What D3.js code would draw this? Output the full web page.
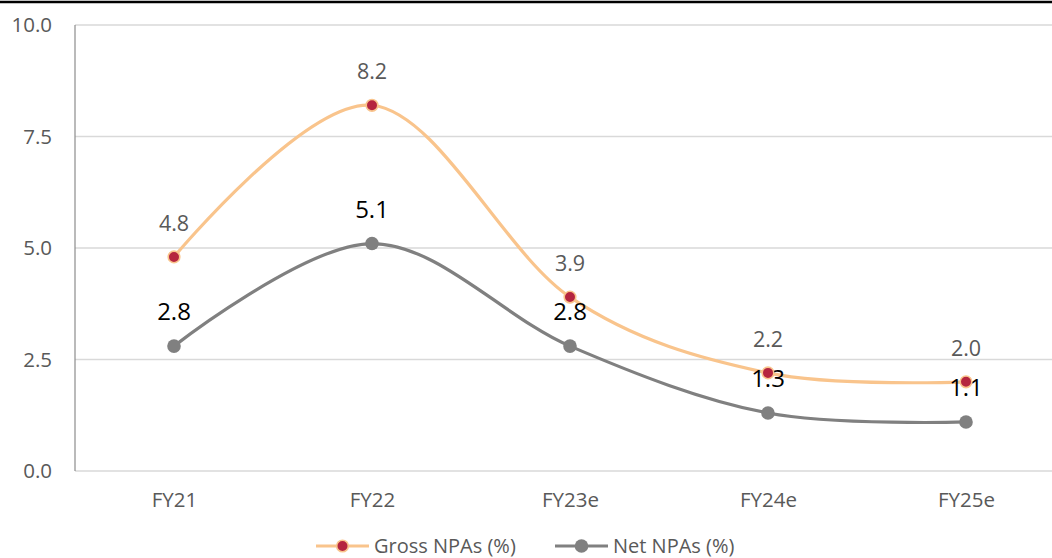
<!DOCTYPE html>
<html>
<head>
<meta charset="utf-8">
<script src="https://cdn.jsdelivr.net/npm/d3@7"></script>
<style>
  html, body { margin: 0; padding: 0; background: #fff; }
  svg { display: block; font-family: "Open Sans", "Noto Sans", sans-serif; }
</style>
</head>
<body>
<svg id="chart" width="1052" height="558"></svg>
<script>
// Asset-quality trend: gross and net NPAs by fiscal year
const categories = ["FY21", "FY22", "FY23e", "FY24e", "FY25e"];
const grossNPAs = [4.8, 8.2, 3.9, 2.2, 2.0];
const netNPAs = [2.8, 5.1, 2.8, 1.3, 1.1];
const yTicks = [0, 2.5, 5, 7.5, 10];
const seriesNames = ["Gross NPAs (%)", "Net NPAs (%)"];

const svg = d3.select("#chart");
const W = 1052, H = 558;
const plot = { left: 75, right: 1065, top: 25, bottom: 471 };
const textSize = "20.5px";

// top rule
svg.append("line")
  .attr("x1", 0).attr("x2", W).attr("y1", 2).attr("y2", 2)
  .attr("stroke", "#000").attr("stroke-width", 2.6);

const x = d3.scalePoint().domain(categories)
  .range([plot.left, plot.right]).padding(0.5);
const y = d3.scaleLinear().domain([0, 10]).range([plot.bottom, plot.top]);

// gridlines
svg.append("g").selectAll("line").data(yTicks).join("line")
  .attr("x1", plot.left).attr("x2", W)
  .attr("y1", d => y(d)).attr("y2", d => y(d))
  .attr("stroke", "#d9d9d9").attr("stroke-width", 1.3);

// left axis line
svg.append("line")
  .attr("x1", plot.left).attr("x2", plot.left)
  .attr("y1", plot.top).attr("y2", plot.bottom)
  .attr("stroke", "#8c8c8c").attr("stroke-width", 1.2);

// y axis labels
const yAxis = svg.append("g")
  .attr("transform", `translate(${plot.left},0)`)
  .call(d3.axisLeft(y).tickValues(yTicks).tickFormat(d3.format(".1f")).tickSize(0).tickPadding(23));
yAxis.select(".domain").remove();
yAxis.selectAll("text")
  .attr("fill", "#595959").attr("font-size", textSize)
  .style("font-family", "'Open Sans', sans-serif");

// x axis labels
const xAxis = svg.append("g")
  .attr("transform", `translate(0,${plot.bottom})`)
  .call(d3.axisBottom(x).tickSize(0).tickPadding(21));
xAxis.select(".domain").remove();
xAxis.selectAll("text")
  .attr("fill", "#595959").attr("font-size", textSize)
  .style("font-family", "'Open Sans', sans-serif");

const line = d3.line()
  .x((d, i) => x(categories[i]))
  .y(d => y(d))
  .curve(d3.curveCatmullRom.alpha(0));

const grossColor = "#f9c48c", grossDot = "#b5253f";
const netColor = "#808080";

// series lines
svg.append("path").datum(netNPAs).attr("d", line)
  .attr("fill", "none").attr("stroke", netColor).attr("stroke-width", 3.2);
svg.append("path").datum(grossNPAs).attr("d", line)
  .attr("fill", "none").attr("stroke", grossColor).attr("stroke-width", 3.2);

// net markers
svg.append("g").selectAll("circle").data(netNPAs).join("circle")
  .attr("cx", (d, i) => x(categories[i])).attr("cy", d => y(d))
  .attr("r", 6.8).attr("fill", netColor);

// data labels
svg.append("g").selectAll("text").data(grossNPAs).join("text")
  .attr("x", (d, i) => x(categories[i])).attr("y", d => y(d) - 26)
  .attr("text-anchor", "middle").attr("fill", "#595959")
  .attr("font-size", "21.5px").text(d => d3.format(".1f")(d));

svg.append("g").selectAll("text").data(netNPAs).join("text")
  .attr("x", (d, i) => x(categories[i])).attr("y", d => y(d) - 26)
  .attr("text-anchor", "middle").attr("fill", "#000")
  .attr("font-size", "24px").text(d => d3.format(".1f")(d));

// gross markers
svg.append("g").selectAll("circle").data(grossNPAs).join("circle")
  .attr("cx", (d, i) => x(categories[i])).attr("cy", d => y(d))
  .attr("r", 5.8).attr("fill", grossDot)
  .attr("stroke", grossColor).attr("stroke-width", 1.6);

// legend
const legend = svg.append("g");
const legendItems = [
  { name: seriesNames[0], x: 316, line: grossColor, dot: grossDot, stroke: grossColor, r: 5.8 },
  { name: seriesNames[1], x: 555, line: netColor, dot: netColor, stroke: "none", r: 6.8 }
];
legendItems.forEach(it => {
  const g = legend.append("g").attr("transform", `translate(${it.x},546)`);
  g.append("line").attr("x1", 0).attr("x2", 53).attr("y1", 0).attr("y2", 0)
    .attr("stroke", it.line).attr("stroke-width", 3.2);
  g.append("circle").attr("cx", 26.5).attr("cy", 0).attr("r", it.r)
    .attr("fill", it.dot).attr("stroke", it.stroke).attr("stroke-width", 1.6);
  g.append("text").attr("x", 58).attr("y", 0).attr("dy", "0.33em")
    .attr("fill", "#595959").attr("font-size", "20px").text(it.name);
});
</script>
</body>
</html>
